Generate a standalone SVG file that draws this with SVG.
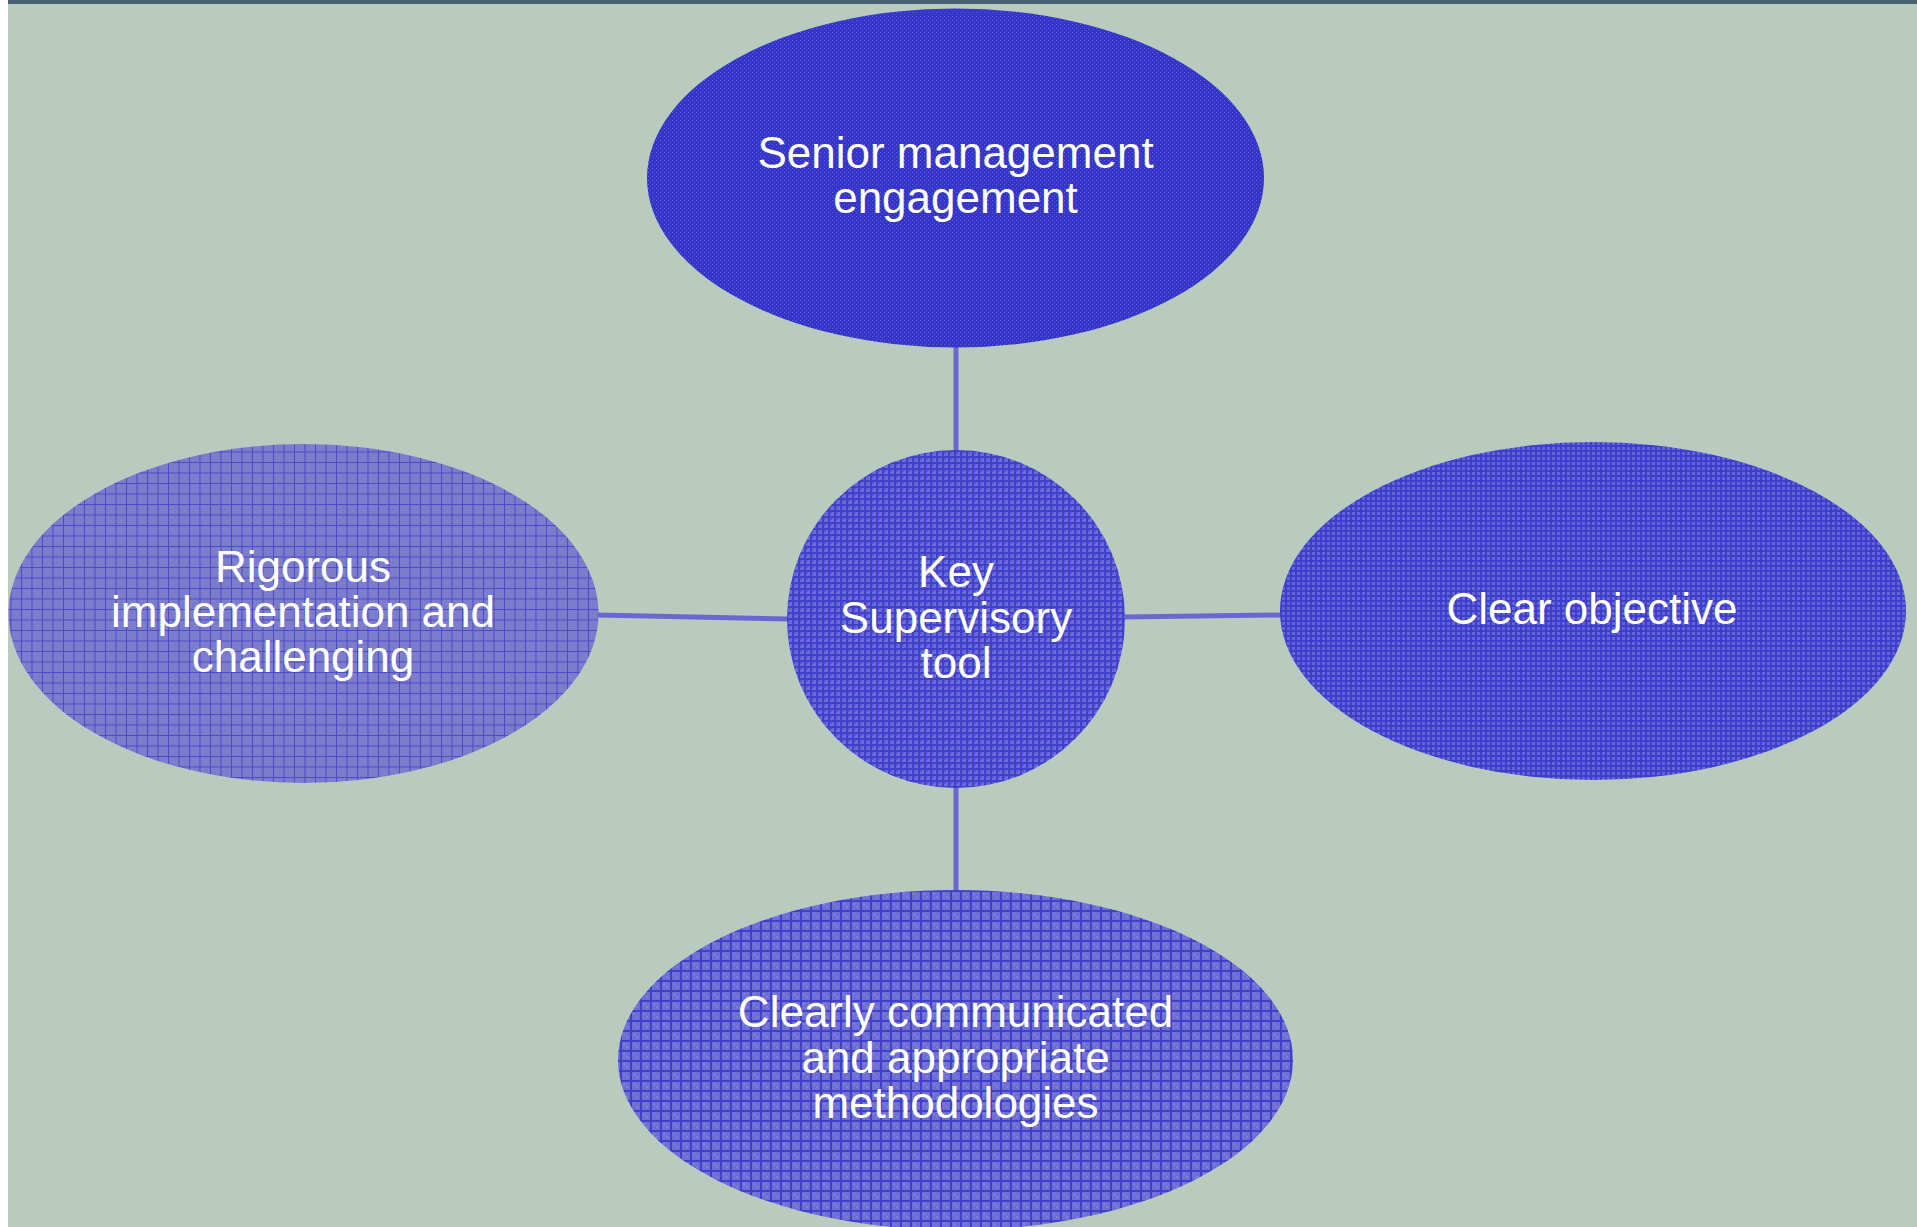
<svg xmlns="http://www.w3.org/2000/svg" width="1917" height="1227" viewBox="0 0 1917 1227">
  <style>
    .label { font-family: "Liberation Sans", Arial, Helvetica, sans-serif; font-size: 44px; fill: #ffffff; text-anchor: middle; }
    .link { stroke: #6868d0; stroke-width: 5; fill: none; }
  </style>
  <defs>
    <!-- fine dotted weave, darkest fill -->
    <pattern id="weaveFine" width="4" height="4" patternUnits="userSpaceOnUse" shape-rendering="crispEdges">
      <rect width="4" height="4" fill="#3434c8"/>
      <rect x="0" y="0" width="1" height="1" fill="#6262d8"/>
      <rect x="2" y="2" width="1" height="1" fill="#5050d4"/>
    </pattern>
    <!-- tight grid -->
    <pattern id="gridTight" width="6" height="6" patternUnits="userSpaceOnUse" shape-rendering="crispEdges">
      <rect width="6" height="6" fill="#6c6cd8"/>
      <rect x="2" y="2" width="2" height="2" fill="#5858d2"/>
      <rect x="0" y="0" width="6" height="2" fill="#4040cc"/>
      <rect x="0" y="0" width="2" height="6" fill="#4040cc"/>
    </pattern>
    <pattern id="gridTight2" width="5" height="5" patternUnits="userSpaceOnUse" shape-rendering="crispEdges">
      <rect width="5" height="5" fill="#6464d6"/>
      <rect x="0" y="0" width="5" height="2" fill="#3e3ecc"/>
      <rect x="0" y="0" width="2" height="5" fill="#3e3ecc"/>
    </pattern>
    <!-- open grid, light cells -->
    <pattern id="gridOpenLight" width="10.5" height="10.5" patternUnits="userSpaceOnUse" shape-rendering="crispEdges">
      <rect width="10.5" height="10.5" fill="#7c7ccc"/>
      <rect x="3" y="3" width="1" height="1" fill="#8c8cd2"/>
      <rect x="6" y="6" width="1" height="1" fill="#8c8cd2"/>
      <rect x="0" y="0" width="10.5" height="1.2" fill="#4a4ace"/>
      <rect x="0" y="0" width="1.2" height="10.5" fill="#4a4ace"/>
    </pattern>
    <!-- open grid, medium cells -->
    <pattern id="gridOpenMid" width="10" height="10" patternUnits="userSpaceOnUse" shape-rendering="crispEdges">
      <rect width="10" height="10" fill="#6e6ed4"/>
      <rect x="3" y="3" width="2" height="2" fill="#7e7ed6"/>
      <rect x="6" y="6" width="2" height="2" fill="#7e7ed6"/>
      <rect x="0" y="0" width="10" height="2" fill="#4040cc"/>
      <rect x="0" y="0" width="2" height="10" fill="#4040cc"/>
    </pattern>
  </defs>

  <!-- page -->
  <rect x="0" y="0" width="1917" height="1227" fill="#ffffff"/>
  <rect x="8" y="0" width="1909" height="1227" fill="#b9cbbf"/>
  <rect x="8" y="0" width="1909" height="4" fill="#465f76"/>

  <!-- connectors -->
  <g id="connectors">
    <line class="link" x1="956" y1="345" x2="956" y2="452"/>
    <line class="link" x1="597" y1="615" x2="789" y2="619"/>
    <line class="link" x1="1123" y1="617" x2="1281" y2="615"/>
    <line class="link" x1="956" y1="786" x2="956" y2="892"/>
  </g>

  <g id="node-senior">
    <ellipse cx="955.5" cy="178" rx="308.5" ry="169.5" fill="url(#weaveFine)"/>
    <text class="label" x="955.5" y="168">Senior management</text>
    <text class="label" x="955.5" y="213">engagement</text>
  </g>

  <g id="node-rigorous">
    <ellipse cx="303.5" cy="613.5" rx="295" ry="169.5" fill="url(#gridOpenLight)"/>
    <text class="label" x="303" y="582">Rigorous</text>
    <text class="label" x="303" y="627">implementation and</text>
    <text class="label" x="303" y="672">challenging</text>
  </g>

  <g id="node-key">
    <circle cx="956" cy="619" r="169" fill="url(#gridTight)"/>
    <text class="label" x="956" y="587">Key</text>
    <text class="label" x="956" y="633">Supervisory</text>
    <text class="label" x="956" y="678">tool</text>
  </g>

  <g id="node-clear">
    <ellipse cx="1593" cy="611" rx="313" ry="169" fill="url(#gridTight2)"/>
    <text class="label" x="1592" y="624">Clear objective</text>
  </g>

  <g id="node-communicated">
    <ellipse cx="955.5" cy="1060" rx="337.5" ry="170" fill="url(#gridOpenMid)"/>
    <text class="label" x="955.5" y="1027">Clearly communicated</text>
    <text class="label" x="955.5" y="1073">and appropriate</text>
    <text class="label" x="955.5" y="1118">methodologies</text>
  </g>
</svg>
